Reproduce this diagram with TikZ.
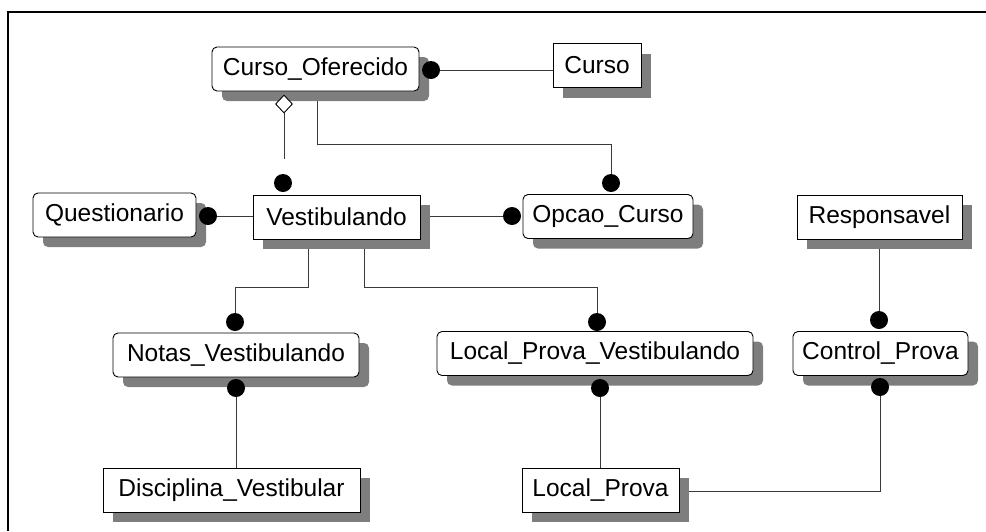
\documentclass[tikz,border=0pt]{standalone}
\usepackage{fontspec}
\setmainfont{Liberation Sans}
\usetikzlibrary{shadows,shapes.geometric}
\pgfdeclarelayer{bg}
\pgfsetlayers{bg,main}
\definecolor{shadowgray}{HTML}{7E7E7E}
\definecolor{linkgray}{HTML}{3A3A3A}

\begin{document}
\begin{tikzpicture}[x=1pt,y=-1pt,
  entity/.style={draw=black, line width=0.9pt, fill=white, inner sep=0pt,
    minimum height=44pt, font=\fontsize{24.5}{28}\selectfont,
    general shadow={fill=shadowgray, shadow xshift=10pt, shadow yshift=-10pt}},
  dependent/.style={entity, rounded corners=5pt},
  dot/.style={circle, fill=black, inner sep=0pt, minimum size=18pt},
  link/.style={draw=linkgray, line width=1pt},
  subtype/.style={diamond, draw=black, fill=white, line width=0.9pt,
    inner sep=0pt, minimum width=17pt, minimum height=18pt}]

\useasboundingbox (0,0) rectangle (986,531);

% outer frame (top and left edges)
\draw[line width=2pt] (8,531) -- (8,12) -- (986,12);

% entities
\node[dependent, minimum width=207pt] (co)    at (315.5,69)  {Curso\_Oferecido};
\node[entity,    minimum width=88pt]  (curso) at (597,65.5)  {Curso};
\node[dependent, minimum width=163pt] (quest) at (114.5,215) {Questionario};
\node[entity,    minimum width=167pt] (vest)  at (336.5,217) {Vestibulando};
\node[dependent, minimum width=170pt] (opc)   at (608,216.5) {Opcao\_Curso};
\node[entity,    minimum width=165pt] (resp)  at (879.5,217) {Responsavel};
\node[dependent, minimum width=246pt] (notas) at (236,355)   {Notas\_Vestibulando};
\node[dependent, minimum width=316pt] (lpv)   at (595,353.5) {Local\_Prova\_Vestibulando};
\node[dependent, minimum width=175pt] (ctrl)  at (880.5,353.5) {Control\_Prova};
\node[entity,    minimum width=257pt] (disc)  at (231.5,490) {Disciplina\_Vestibular};
\node[entity,    minimum width=157pt] (lp)    at (600.5,490) {Local\_Prova};

% relationship ends
\node[dot] (dCoCurso) at (431,70) {};
\node[subtype] (sub) at (284,104) {};
\node[dot] (dVestTop) at (283,183) {};
\node[dot] (dOpcTop)  at (611,183) {};
\node[dot] (dQuest)   at (208,216) {};
\node[dot] (dOpcLeft) at (512,216) {};
\node[dot] (dNotas)   at (235,322) {};
\node[dot] (dLpv)     at (597,322) {};
\node[dot] (dCtrl)    at (879,320) {};
\node[dot] (dNotasB)  at (236,388) {};
\node[dot] (dLpvB)    at (600,388) {};
\node[dot] (dCtrlB)   at (880,387) {};

\coordinate (subEnd) at (284,159);

\begin{pgfonlayer}{bg}
  \draw[link] (dCoCurso.center) -- (curso.west |- dCoCurso);
  \draw[link] (sub.south) -- (subEnd);
  \draw[link] ([xshift=1.5pt]co.south) -- ++(0,53) -| (dOpcTop.center);
  \draw[link] (dQuest.center) -- (vest.west |- dQuest);
  \draw[link] (vest.east |- dOpcLeft) -- (dOpcLeft.center);
  \draw[link] ([xshift=-28.5pt]vest.south) -- ++(0,48) -| (dNotas.center);
  \draw[link] ([xshift=27.5pt]vest.south) -- ++(0,48) -| (dLpv.center);
  \draw[link] (resp.south -| dCtrl) -- (dCtrl.center);
  \draw[link] (dNotasB.center) -- (disc.north -| dNotasB);
  \draw[link] (dLpvB.center) -- (lp.north -| dLpvB);
  \draw[link] (dCtrlB.center) -- ++(0,104) -- (lp.east |- 0,491);
\end{pgfonlayer}

\end{tikzpicture}
\end{document}
